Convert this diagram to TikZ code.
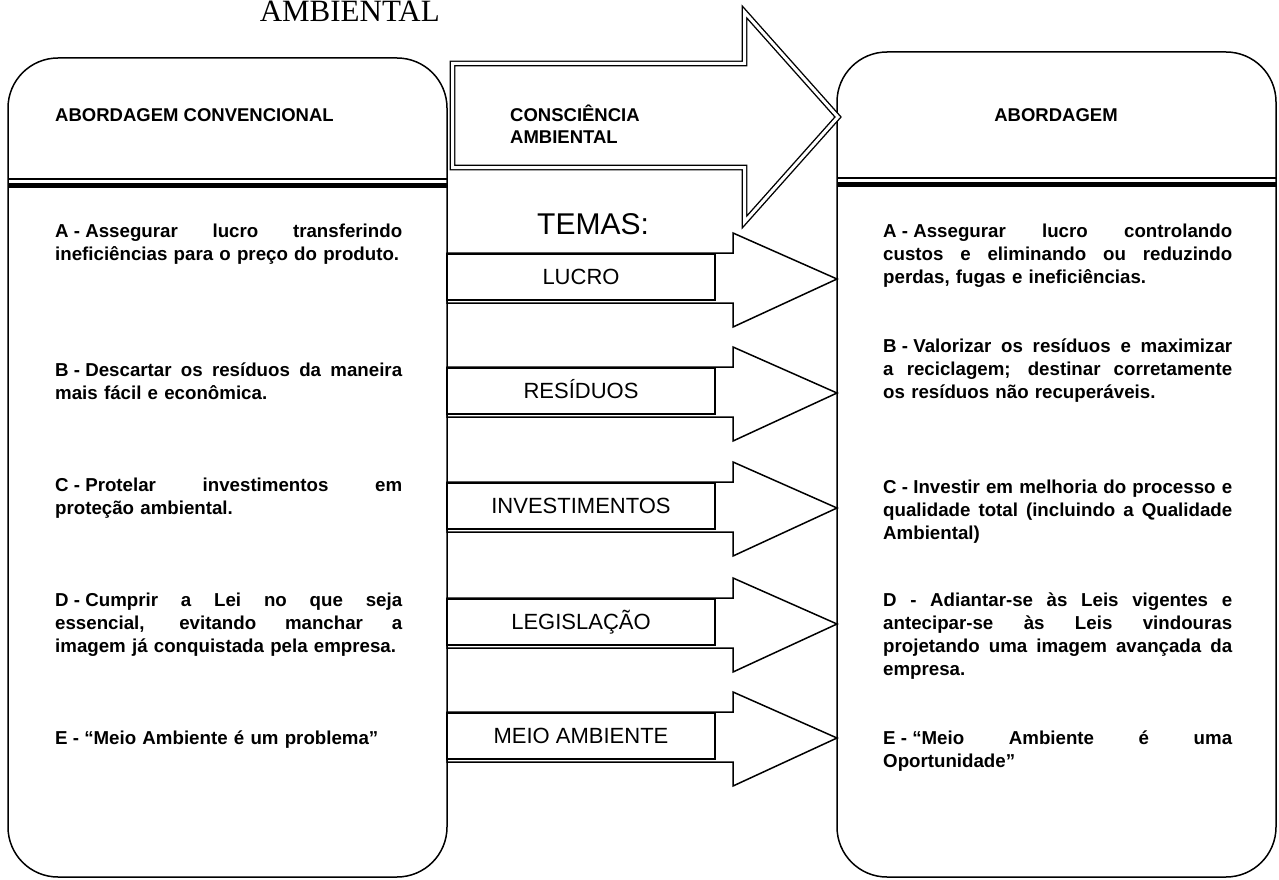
\documentclass[tikz,border=0pt]{standalone}
\usepackage{fontspec}
\setmainfont{Liberation Sans}
\newfontfamily\serifT{Liberation Serif}
\hyphenpenalty=10000
\exhyphenpenalty=10000
\newcommand\jl[1]{\makebox[\hsize][s]{\spaceskip=0pt\xspaceskip=0pt #1}}
\newcommand\dsh{\hspace{0.278em}-\hspace{0.278em}}
\tikzset{
  box/.style={draw, line width=1.5pt, rounded corners=50pt},
  bigarrow/.style={draw, line width=1.4pt, double=white, double distance=3pt, line join=miter, miter limit=20},
  arr/.style={draw, line width=1.5pt, line join=miter, miter limit=20},
  lbl/.style={draw, line width=1.5pt, minimum width=268pt, minimum height=46pt, inner sep=0pt,
              font=\fontsize{22pt}{22pt}\selectfont, text height=15.8pt, text depth=0pt},
  hdr/.style={font=\bfseries\fontsize{18.5pt}{22pt}\selectfont, inner sep=0pt},
  body/.style={font=\bfseries\fontsize{18.7pt}{23pt}\selectfont, text width=#1, align=left,
               anchor=base west, inner sep=0pt},
  body/.default=347pt,
  thinrule/.style={line width=1.3pt},
  thickrule/.style={line width=5pt}
}
\begin{document}
\begin{tikzpicture}[x=1pt,y=-1pt]
\useasboundingbox (0,0) rectangle (1279,880);
% title (top of page)
\node[font=\serifT\fontsize{31pt}{31pt}\selectfont, anchor=base east, inner sep=0pt] (title) at (440,22) {AMBIENTAL};
% side boxes
\draw[box] (8,58) rectangle (447,877);
\draw[box] (837,52) rectangle (1276,877);
% header rules
\draw[thinrule] (8,179) -- (447,179);
\draw[thickrule] (8,185.5) -- (447,185.5);
\draw[thinrule] (837,178) -- (1276,178);
\draw[thickrule] (837,184.5) -- (1276,184.5);
% big arrow
\draw[bigarrow] (452.5,63.5) -- (744.5,63.5) -- (744.5,12) -- (838,117) -- (744.5,222) -- (744.5,167.5) -- (452.5,167.5) -- cycle;
% headers
\node[hdr, anchor=base west] (hL) at (55,121.5) {ABORDAGEM CONVENCIONAL};
\node[hdr, anchor=base] (hR) at (1056,121.5) {ABORDAGEM};
\node[hdr, text width=160pt, align=left, anchor=base west] (hM) at (510,121.5) {CONSCIÊNCIA\\AMBIENTAL};
% temas
\node[anchor=base west, inner sep=0pt, font=\fontsize{30pt}{30pt}\selectfont] (temas) at (537,234) {TEMAS:};
% small arrows with labels
\foreach \c/\t/\n in {279/LUCRO/lucro, 393/RESÍDUOS/residuos, 508/INVESTIMENTOS/invest, 624/LEGISLAÇÃO/legis, 738/MEIO AMBIENTE/meio}{
  \draw[arr] (447,\c-26) -- (733,\c-26) -- (733,\c-46) -- (837,\c) -- (733,\c+48) -- (733,\c+24) -- (447,\c+24) -- cycle;
  \node[lbl] (\n) at (581,\c-2) {\t};
}
% left texts
\node[body] (lA) at (55,237.5) {\jl{A\dsh Assegurar lucro transferindo}\\ineficiências para o preço do produto.};
\node[body] (lB) at (55,376.5) {\jl{B\dsh Descartar os resíduos da maneira}\\mais fácil e econômica.};
\node[body] (lC) at (55,491) {\jl{C\dsh Protelar investimentos em}\\proteção ambiental.};
\node[body] (lD) at (55,606.5) {\jl{D\dsh Cumprir a Lei no que seja}\\\jl{essencial, evitando manchar a}\\imagem já conquistada pela empresa.};
\node[body] (lE) at (55,744.5) {E\dsh “Meio Ambiente é um problema”};
% right texts
\node[body=349pt] (rA) at (883,237.5) {\jl{A\dsh Assegurar lucro controlando}\\\jl{custos e eliminando ou reduzindo}\\perdas, fugas e ineficiências.};
\node[body=349pt] (rB) at (883,352.5) {\jl{B\dsh Valorizar os resíduos e maximizar}\\\jl{a reciclagem; destinar corretamente}\\os resíduos não recuperáveis.};
\node[body=349pt] (rC) at (883,493) {\jl{C\dsh Investir em melhoria do processo e}\\\jl{qualidade total (incluindo a Qualidade}\\Ambiental)};
\node[body=349pt] (rD) at (883,606.5) {\jl{D - Adiantar-se às Leis vigentes e}\\\jl{antecipar-se às Leis vindouras}\\\jl{projetando uma imagem avançada da}\\empresa.};
\node[body=349pt] (rE) at (883,744.5) {\jl{E\dsh “Meio Ambiente é uma}\\Oportunidade”};
\end{tikzpicture}
\end{document}
